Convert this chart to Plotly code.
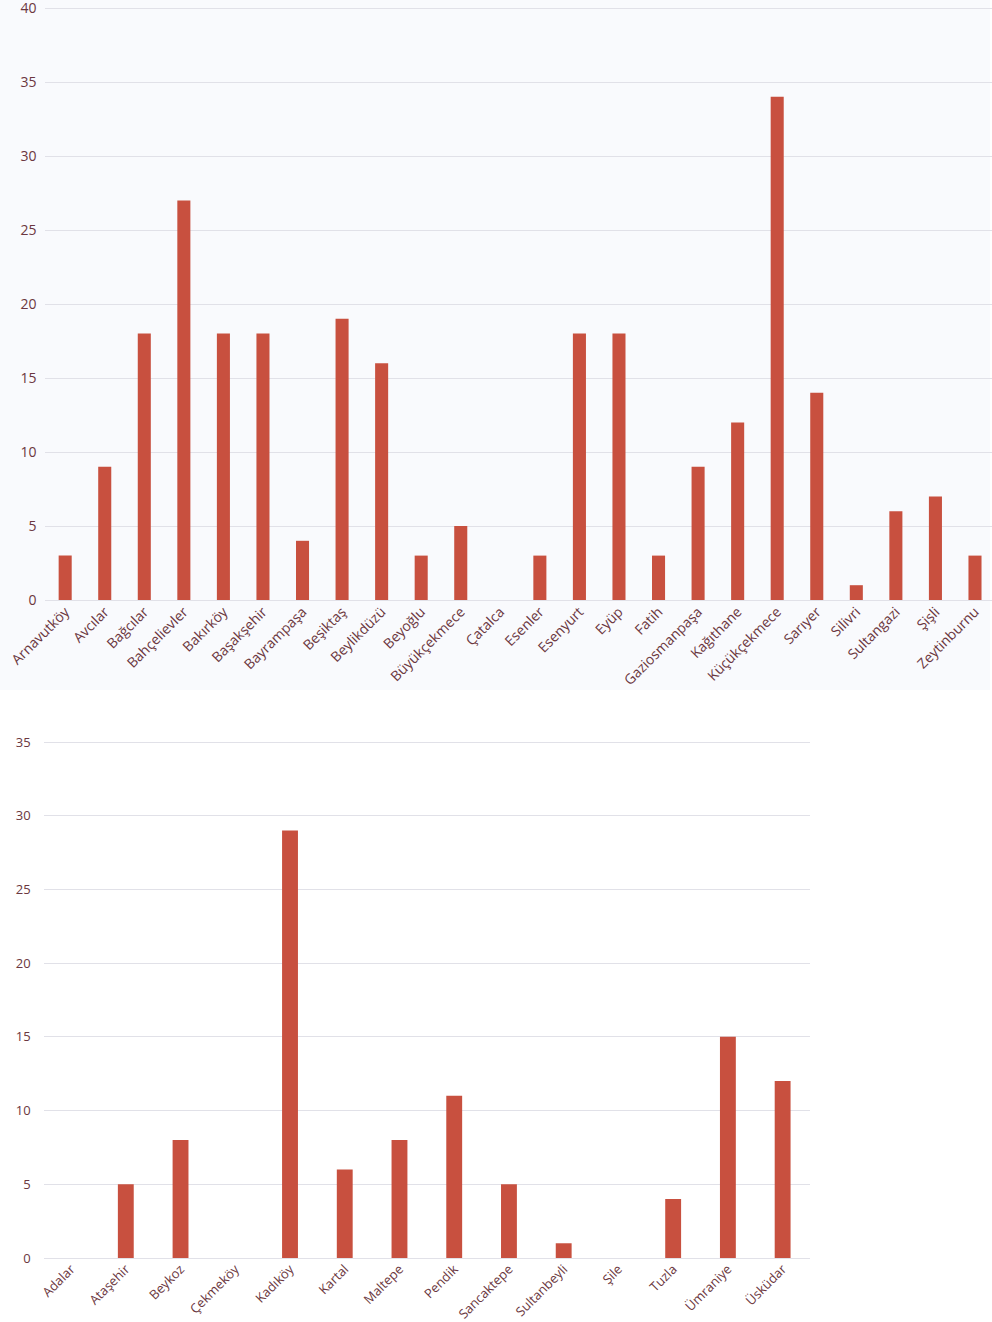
import plotly.graph_objects as go

# Top chart (European side)
top_districts = ["Arnavutköy", "Avcılar", "Bağcılar", "Bahçelievler", "Bakırköy", "Başakşehir",
                 "Bayrampaşa", "Beşiktaş", "Beylikdüzü", "Beyoğlu", "Büyükçekmece", "Çatalca",
                 "Esenler", "Esenyurt", "Eyüp", "Fatih", "Gaziosmanpaşa", "Kağıthane",
                 "Küçükçekmece", "Sarıyer", "Silivri", "Sultangazi", "Şişli", "Zeytinburnu"]
top_values = [3, 9, 18, 27, 18, 18, 4, 19, 16, 3, 5, 0, 3, 18, 18, 3, 9, 12, 34, 14, 1, 6, 7, 3]

# Bottom chart (Anatolian side)
bottom_districts = ["Adalar", "Ataşehir", "Beykoz", "Çekmeköy", "Kadıköy", "Kartal", "Maltepe",
                    "Pendik", "Sancaktepe", "Sultanbeyli", "Şile", "Tuzla", "Ümraniye", "Üsküdar"]
bottom_values = [0, 5, 8, 0, 29, 6, 8, 11, 5, 1, 0, 4, 15, 12]

top_ticks = [0, 5, 10, 15, 20, 25, 30, 35, 40]
bottom_ticks = [0, 5, 10, 15, 20, 25, 30, 35]

BAR = "#c8503f"
TXT = "#6b3740"
GRID = "#e1e1e8"
H = 1322.0
W = 992.0

fig = go.Figure()
fig.add_trace(go.Bar(x=top_districts, y=top_values, width=0.33,
                     marker=dict(color=BAR, line=dict(width=0)),
                     xaxis="x", yaxis="y", showlegend=False))
fig.add_trace(go.Bar(x=bottom_districts, y=bottom_values, width=0.29,
                     marker=dict(color=BAR, line=dict(width=0)),
                     xaxis="x2", yaxis="y2", showlegend=False))

top_font = dict(family="Open Sans", size=14, color=TXT)
bot_font = dict(family="Open Sans", size=13, color=TXT)

fig.update_layout(
    width=992, height=1322,
    margin=dict(l=0, r=0, t=0, b=0),
    paper_bgcolor="white",
    plot_bgcolor="rgba(0,0,0,0)",
    font=top_font,
    xaxis=dict(domain=[45.4 / W, 1.0], anchor="y", range=[-0.5, 23.43], tickangle=-45, tickfont=top_font,
               showgrid=False, showline=False, ticks="", automargin=False, type="category"),
    yaxis=dict(domain=[1 - 600 / H, 1 - 3.56 / H], anchor="x", range=[0, 40.3], tickvals=top_ticks,
               tickfont=top_font, gridcolor=GRID, gridwidth=1, zeroline=True, zerolinecolor=GRID,
               zerolinewidth=1, showline=False, ticks="", automargin=False,
               ticklabeloverflow="allow", ticklabelstandoff=8),
    xaxis2=dict(domain=[43.7 / W, 810 / W], anchor="y2", tickangle=-45, tickfont=bot_font,
                showgrid=False, showline=False, ticks="", automargin=False, type="category"),
    yaxis2=dict(domain=[1 - 1258 / H, 1 - 737.6 / H], anchor="x2", range=[0, 35.3], tickvals=bottom_ticks,
                tickfont=bot_font, gridcolor=GRID, gridwidth=1, zeroline=True, zerolinecolor=GRID,
                zerolinewidth=1, showline=False, ticks="", automargin=False,
                ticklabeloverflow="allow", ticklabelstandoff=12),
    shapes=[
        dict(type="rect", xref="paper", yref="paper", x0=0, x1=990 / W, y0=1 - 690 / H, y1=1,
             fillcolor="#f9fafd", line=dict(width=0), layer="below"),
    ],
)

fig.write_html("out.html", config={"displayModeBar": False},
               post_script="document.body.style.margin='0';document.body.style.overflow='hidden';")
